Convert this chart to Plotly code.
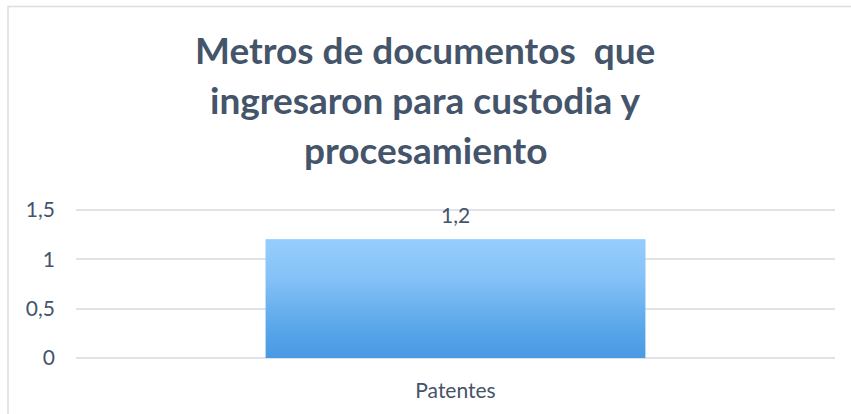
import plotly.graph_objects as go

categories = ["Patentes"]
values = [1.2]
value_labels = ["1,2"]
tick_vals = [0, 0.5, 1, 1.5]
tick_text = ["0", "0,5", "1", "1,5"]
title_lines = ["Metros de documentos  que", "ingresaron para custodia y", "procesamiento"]

W, H = 851, 414
ML, MR, MT, MB = 76, 16, 207, 56
PW, PH = W - ML - MR, H - MT - MB
Y_TOP = 1.5 * PH / 148.0
BAR_W = 0.5
TXT = "#44546a"
GRID = "#dfe2e7"
FONT = "Lato, Open Sans"

xs = list(range(len(categories)))

fig = go.Figure()
fig.add_trace(go.Bar(x=xs, y=values, width=BAR_W, marker=dict(color="#6fb3f0", line=dict(width=0)),
                     hoverinfo="skip", showlegend=False))

# gradient overlay for each bar, built from the bar's own data
for xi, v in zip(xs, values):
    fig.add_trace(go.Scatter(
        x=[xi - BAR_W / 2, xi + BAR_W / 2, xi + BAR_W / 2, xi - BAR_W / 2, xi - BAR_W / 2],
        y=[0, 0, v, v, 0],
        mode="lines", line=dict(width=0), fill="toself",
        fillgradient=dict(type="vertical",
                          colorscale=[[0, "#4a9be4"], [0.2, "#55a3e8"], [0.7, "#87c3f8"], [1, "#95cdfd"]]),
        hoverinfo="skip", showlegend=False))

for xi, v, lab in zip(xs, values, value_labels):
    fig.add_annotation(x=xi, y=v, text=lab, showarrow=False, yshift=25,
                       font=dict(family=FONT, size=21, color=TXT))

line_y = [50, 100, 149]
for ln, py in zip(title_lines, line_y):
    fig.add_annotation(xref="paper", yref="paper", x=(425 - ML) / PW, y=(H - MB - py) / PH,
                       text="<b>" + ln.replace("  ", "&nbsp; ") + "</b>", showarrow=False,
                       xanchor="center", yanchor="middle",
                       font=dict(family=FONT, size=37, color=TXT))

fig.add_shape(type="rect", xref="paper", yref="paper",
              x0=(8 - ML) / PW, x1=(W + 20 - ML) / PW,
              y0=(H - MB - 6.5) / PH, y1=(H - MB - (H + 20)) / PH,
              line=dict(color="#d9dde3", width=1.5), fillcolor="rgba(0,0,0,0)", layer="below")

fig.update_layout(
    width=W, height=H,
    margin=dict(l=ML, r=MR, t=MT, b=MB),
    paper_bgcolor="white", plot_bgcolor="white",
    showlegend=False,
    xaxis=dict(range=[-0.5, len(categories) - 0.5], tickvals=xs, ticktext=categories,
               showgrid=False, zeroline=False, showline=False, ticks="",
               ticklabelstandoff=18,
               tickfont=dict(family=FONT, size=21, color=TXT), fixedrange=True),
    yaxis=dict(range=[0, Y_TOP], tickvals=tick_vals, ticktext=tick_text,
               showgrid=True, gridcolor=GRID, gridwidth=1.5,
               zeroline=True, zerolinecolor=GRID, zerolinewidth=1.5, showline=False,
               ticks="", ticklabelstandoff=20,
               tickfont=dict(family=FONT, size=21, color=TXT), fixedrange=True),
)

fig.write_html("out.html", config={"displayModeBar": False},
               post_script="document.body.style.margin='0';")
